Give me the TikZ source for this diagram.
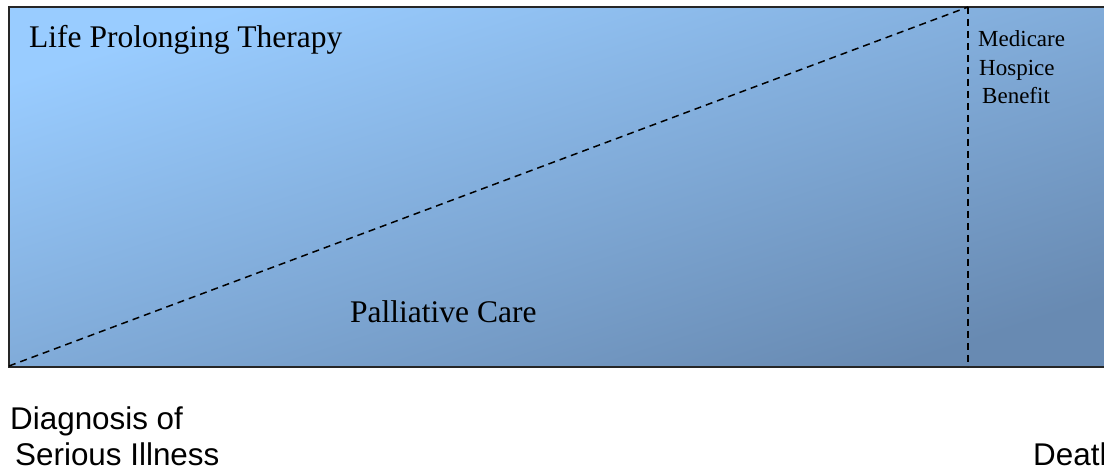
\documentclass[tikz,border=0pt]{standalone}
\usepackage{fontspec}
\setmainfont{Liberation Serif}
\newfontfamily\arialfont{Liberation Sans}
\definecolor{lightblue}{RGB}{153,204,255}
\definecolor{darkblue}{RGB}{104,138,178}
\begin{document}
\begin{tikzpicture}[x=1pt,y=-1pt,
  bigserif/.style={anchor=base west, inner sep=0pt, font=\fontsize{31.5}{36}\selectfont},
  smallserif/.style={anchor=base west, inner sep=0pt, font=\fontsize{23}{28}\selectfont},
  sanslabel/.style={anchor=base west, inner sep=0pt, font=\arialfont\fontsize{31.4}{36}\selectfont},
  dashline/.style={draw=black, line width=1.5pt, dash pattern=on 7pt off 5pt}]
\useasboundingbox (0,0) rectangle (1104,470);
\clip (0,0) rectangle (1104,470);
\fill[white] (0,0) rectangle (1104,470);
% main box
\coordinate (tl) at (9,7);
\coordinate (br) at (1125,367);
\shade[shading=axis, top color=lightblue, bottom color=darkblue, shading angle=18] (tl) rectangle (br);
\draw[line width=1.6pt, draw=black!85] (tl) rectangle (br);
% dashed lines
\coordinate (start) at (9,366);
\coordinate (peak) at (968,7);
\coordinate (vbot) at (968,367);
\draw[dashline] (start) -- (peak);
\draw[dashline] (peak) -- (vbot);
% labels
\node[bigserif] (lpt) at (29,48) {Life Prolonging Therapy};
\node[bigserif] (pc) at (350,323) {Palliative Care};
\node[smallserif] (med) at (978,47) {Medicare};
\node[smallserif] (hos) at (979,76) {Hospice};
\node[smallserif] (ben) at (982,104) {Benefit};
\node[sanslabel] (diag) at (10,430) {Diagnosis of};
\node[sanslabel] (ser) at (15,465) {Serious Illness};
\node[sanslabel] (death) at (1033,465) {Death};
\end{tikzpicture}
\end{document}
